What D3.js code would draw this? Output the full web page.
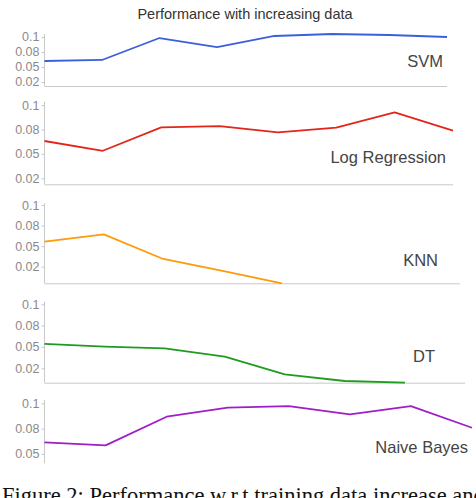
<!DOCTYPE html>
<html lang="en">
  <head>
    <meta charset="UTF-8" />
    <title>Performance with increasing data</title>
    <style>
      html,
      body {
        margin: 0;
        background: #fff;
      }
      svg {
        display: block;
      }
      .tick text {
        font-family: "Liberation Sans", Arial, sans-serif;
        font-size: 12.5px;
        fill: #8a8a8a;
      }
    </style>
    <script src="https://cdn.jsdelivr.net/npm/d3@7"></script>
  </head>

  <body>
    <div id="chart"></div>

    <script>
      // 训练数据逐步增加的 8 个阶段
      const steps = [1, 2, 3, 4, 5, 6, 7, 8];

      const models = ["SVM", "Log Regression", "KNN", "DT", "Naive Bayes"];

      const svmScores = [0.06, 0.0617, 0.0983, 0.0833, 0.1017, 0.105, 0.1033, 0.1];
      const logRegScores = [0.0632, 0.0532, 0.0772, 0.0785, 0.0721, 0.0768, 0.0925, 0.0737];
      const knnScores = [0.0554, 0.0644, 0.0344, 0.0198, 0.0048, null, null, null];
      const dtScores = [0.0535, 0.0503, 0.0484, 0.0386, 0.0179, 0.0101, 0.0081, null];
      const nbScores = [0.0615, 0.0585, 0.0868, 0.0957, 0.0973, 0.0892, 0.0973, 0.0759];

      const seriesScores = [svmScores, logRegScores, knnScores, dtScores, nbScores];

      // 每个面板的 y 轴范围
      const yDomains = [
        [0.0183, 0.105],
        [0.0189, 0.1034],
        [0.0048, 0.1021],
        [0.0081, 0.103],
        [0.0408, 0.1033],
      ];

      const tickValues = [0.1, 0.075, 0.05, 0.025];
      const tickLabels = ["0.1", "0.08", "0.05", "0.02"];

      const colors = ["#3a5fdc", "#e3261c", "#ff9a0a", "#1f9c1f", "#a01ec8"];

      // 面板布局（像素）
      const panels = [
        { top: 34, bottom: 86, right: 447, labelX: 443, labelY: 66.5, axis: true },
        { top: 101.7, bottom: 184.3, right: 453, labelX: 446, labelY: 162.5, axis: true },
        { top: 203.3, bottom: 283.3, right: 460, labelX: 438, labelY: 266, axis: true },
        { top: 301.7, bottom: 382.7, right: 465, labelX: 435, labelY: 361.5, axis: true },
        { top: 400, bottom: 463.3, right: 472, labelX: 468, labelY: 452.5, axis: false },
      ];
      const left = 44.5;

      const width = 476;
      const height = 498;

      const svg = d3
        .select("#chart")
        .append("svg")
        .attr("width", width)
        .attr("height", height);

      svg
        .append("text")
        .attr("x", 245)
        .attr("y", 19)
        .attr("text-anchor", "middle")
        .style("font-family", "Liberation Sans, Arial, sans-serif")
        .style("font-size", "14.5px")
        .style("fill", "#333")
        .text("Performance with increasing data");

      panels.forEach((p, i) => {
        const g = svg.append("g");
        const x = d3.scalePoint().domain(steps).range([left, p.right]);
        const y = d3.scaleLinear().domain(yDomains[i]).range([p.bottom, p.top]);

        const ticks = tickValues.filter(
          (v) => v >= yDomains[i][0] && v <= yDomains[i][1]
        );
        const yAxis = d3
          .axisLeft(y)
          .tickValues(ticks)
          .tickSize(3)
          .tickPadding(2)
          .tickFormat((d) => tickLabels[tickValues.indexOf(d)]);

        const ax = g
          .append("g")
          .attr("transform", `translate(${left},0)`)
          .call(yAxis);
        ax.select(".domain").attr("stroke", "#c8c8c8").attr("d", `M0,${p.top}V${p.bottom}`);
        ax.selectAll(".tick line").attr("stroke", "#c8c8c8");

        if (p.axis) {
          g.append("line")
            .attr("x1", left)
            .attr("x2", p.right)
            .attr("y1", p.bottom + 0.5)
            .attr("y2", p.bottom + 0.5)
            .attr("stroke", "#c8c8c8");
        }

        const line = d3
          .line()
          .defined((d) => d != null)
          .x((d, j) => x(steps[j]))
          .y((d) => y(d));

        g.append("path")
          .datum(seriesScores[i])
          .attr("fill", "none")
          .attr("stroke", colors[i])
          .attr("stroke-width", 1.8)
          .attr("stroke-linejoin", "round")
          .attr("d", line);

        g.append("text")
          .attr("x", p.labelX)
          .attr("y", p.labelY)
          .attr("text-anchor", "end")
          .style("font-family", "Liberation Sans, Arial, sans-serif")
          .style("font-size", "16.5px")
          .style("fill", "#444")
          .text(models[i]);
      });

      // 论文图注（下半部分被图片裁掉）
      svg
        .append("text")
        .attr("x", 2)
        .attr("y", 503)
        .style("font-family", "Liberation Serif, Times New Roman, serif")
        .style("font-size", "22.5px")
        .style("fill", "#111")
        .text("Figure 2: Performance w.r.t training data increase and");
    </script>
  </body>
</html>
